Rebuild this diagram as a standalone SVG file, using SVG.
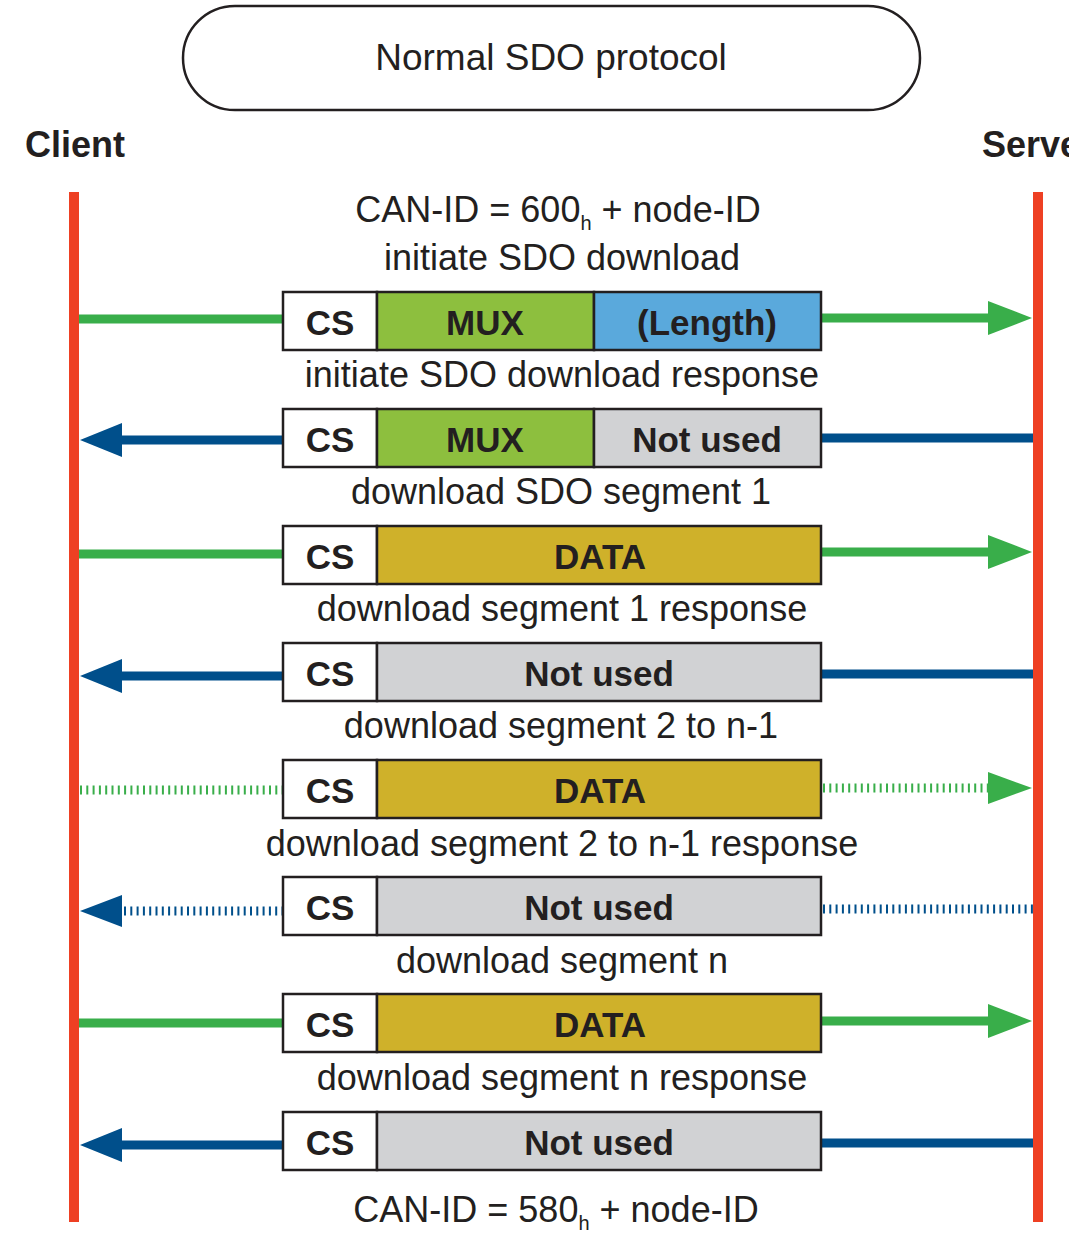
<svg xmlns="http://www.w3.org/2000/svg" width="1069" height="1244" viewBox="0 0 1069 1244">
<defs>
<style>
.t{font-family:"Liberation Sans",Arial,sans-serif;font-size:36px;fill:#231F20;text-anchor:middle}
.tt{font-family:"Liberation Sans",Arial,sans-serif;font-size:37px;fill:#231F20;text-anchor:middle}
.b{font-family:"Liberation Sans",Arial,sans-serif;font-size:35px;font-weight:bold;fill:#231F20;text-anchor:middle}
.hd{font-family:"Liberation Sans",Arial,sans-serif;font-size:36px;font-weight:bold;fill:#231F20}
.cell{stroke:#231F20;stroke-width:2.5}
.cs{fill:#FFFFFF}
.mux{fill:#8DBF3E}
.len{fill:#5AA9DC}
.data{fill:#CFB12A}
.nu{fill:#D1D2D4}
.life{stroke:#EE4023;stroke-width:10}
.g{stroke:#39AE4A;stroke-width:9;fill:none}
.bl{stroke:#004F8B;stroke-width:9;fill:none}
.dot{stroke-dasharray:2 4.3}
.gh{fill:#39AE4A}
.bh{fill:#004F8B}
</style>
</defs>
<rect width="1069" height="1244" fill="#FFFFFF"/>

<g id="title">
<rect x="183" y="6" width="737" height="104" rx="52" ry="52" fill="#FFFFFF" stroke="#231F20" stroke-width="2.5"/>
<text class="tt" x="551" y="70">Normal SDO protocol</text>
</g>

<g id="client">
<text class="hd" x="25" y="157">Client</text>
<line class="life" x1="74" y1="192" x2="74" y2="1222"/>
</g>
<g id="server">
<text class="hd" x="982" y="157">Server</text>
<line class="life" x1="1038" y1="192" x2="1038" y2="1222"/>
</g>

<g id="labels">
<text class="t" x="558" y="222">CAN-ID = 600<tspan font-size="20" dy="8">h</tspan><tspan dy="-8"> + node-ID</tspan></text>
<text class="t" x="562" y="270">initiate SDO download</text>
<text class="t" x="562" y="387">initiate SDO download response</text>
<text class="t" x="561" y="504">download SDO segment 1</text>
<text class="t" x="562" y="621">download segment 1 response</text>
<text class="t" x="561" y="738">download segment 2 to n-1</text>
<text class="t" x="562" y="856">download segment 2 to n-1 response</text>
<text class="t" x="562" y="973">download segment n</text>
<text class="t" x="562" y="1090">download segment n response</text>
<text class="t" x="556" y="1222">CAN-ID = 580<tspan font-size="20" dy="8">h</tspan><tspan dy="-8"> + node-ID</tspan></text>
</g>

<g id="connectors">
<line class="g" x1="79" y1="319" x2="283" y2="319"/>
<line class="g" x1="821" y1="318" x2="992" y2="318"/>
<polygon class="gh" points="988,301 1032,318 988,335"/>
<line class="bl" x1="118" y1="440" x2="283" y2="440"/>
<polygon class="bh" points="122,423 80,440 122,457"/>
<line class="bl" x1="821" y1="438" x2="1033" y2="438"/>
<line class="g" x1="79" y1="554" x2="283" y2="554"/>
<line class="g" x1="821" y1="552" x2="992" y2="552"/>
<polygon class="gh" points="988,535 1032,552 988,569"/>
<line class="bl" x1="118" y1="676" x2="283" y2="676"/>
<polygon class="bh" points="122,659 80,676 122,693"/>
<line class="bl" x1="821" y1="674" x2="1033" y2="674"/>
<line class="g dot" x1="80" y1="790" x2="283" y2="790"/>
<line class="g dot" x1="823" y1="788" x2="990" y2="788"/>
<polygon class="gh" points="988,772 1032,788 988,804"/>
<line class="bl dot" x1="124" y1="911" x2="283" y2="911"/>
<polygon class="bh" points="122,895 80,911 122,927"/>
<line class="bl dot" x1="823" y1="909" x2="1033" y2="909"/>
<line class="g" x1="79" y1="1023" x2="283" y2="1023"/>
<line class="g" x1="821" y1="1021" x2="992" y2="1021"/>
<polygon class="gh" points="988,1004 1032,1021 988,1038"/>
<line class="bl" x1="118" y1="1145" x2="283" y2="1145"/>
<polygon class="bh" points="122,1128 80,1145 122,1162"/>
<line class="bl" x1="821" y1="1143" x2="1033" y2="1143"/>
</g>

<g id="msg1">
<rect class="cell cs" x="283" y="292" width="94" height="58"/>
<rect class="cell mux" x="377" y="292" width="217" height="58"/>
<rect class="cell len" x="594" y="292" width="227" height="58"/>
<text class="b" x="330" y="335">CS</text>
<text class="b" x="485" y="335">MUX</text>
<text class="b" x="707" y="335">(Length)</text>
</g>
<g id="msg2">
<rect class="cell cs" x="283" y="409" width="94" height="58"/>
<rect class="cell mux" x="377" y="409" width="217" height="58"/>
<rect class="cell nu" x="594" y="409" width="227" height="58"/>
<text class="b" x="330" y="452">CS</text>
<text class="b" x="485" y="452">MUX</text>
<text class="b" x="707" y="452">Not used</text>
</g>
<g id="msg3">
<rect class="cell cs" x="283" y="526" width="94" height="58"/>
<rect class="cell data" x="377" y="526" width="444" height="58"/>
<text class="b" x="330" y="569">CS</text>
<text class="b" x="600" y="569">DATA</text>
</g>
<g id="msg4">
<rect class="cell cs" x="283" y="643" width="94" height="58"/>
<rect class="cell nu" x="377" y="643" width="444" height="58"/>
<text class="b" x="330" y="686">CS</text>
<text class="b" x="599" y="686">Not used</text>
</g>
<g id="msg5">
<rect class="cell cs" x="283" y="760" width="94" height="58"/>
<rect class="cell data" x="377" y="760" width="444" height="58"/>
<text class="b" x="330" y="803">CS</text>
<text class="b" x="600" y="803">DATA</text>
</g>
<g id="msg6">
<rect class="cell cs" x="283" y="877" width="94" height="58"/>
<rect class="cell nu" x="377" y="877" width="444" height="58"/>
<text class="b" x="330" y="920">CS</text>
<text class="b" x="599" y="920">Not used</text>
</g>
<g id="msg7">
<rect class="cell cs" x="283" y="994" width="94" height="58"/>
<rect class="cell data" x="377" y="994" width="444" height="58"/>
<text class="b" x="330" y="1037">CS</text>
<text class="b" x="600" y="1037">DATA</text>
</g>
<g id="msg8">
<rect class="cell cs" x="283" y="1112" width="94" height="58"/>
<rect class="cell nu" x="377" y="1112" width="444" height="58"/>
<text class="b" x="330" y="1155">CS</text>
<text class="b" x="599" y="1155">Not used</text>
</g>
</svg>
